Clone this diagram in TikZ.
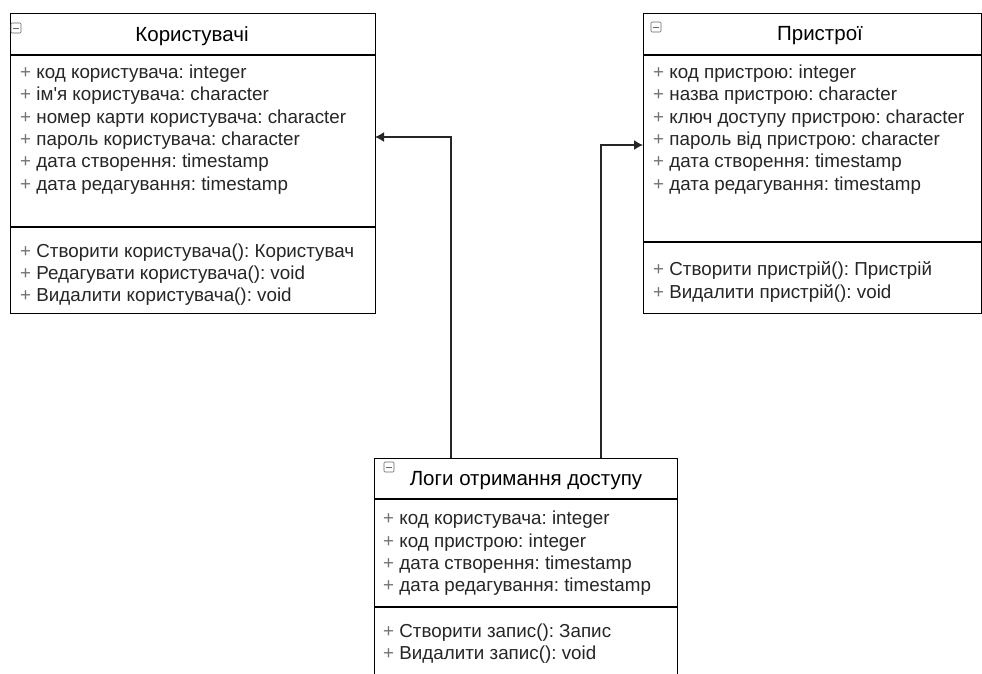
\documentclass[tikz,border=0pt]{standalone}
\usepackage{fontspec}
\setmainfont{Liberation Sans}
\usetikzlibrary{arrows.meta}
\frenchspacing
\newcommand{\pl}{\textcolor{black!55}{+}\ }
\begin{document}
\begin{tikzpicture}[x=1pt,y=-1pt,
  classbox/.style={draw=black,line width=1.1pt,fill=white},
  sep/.style={draw=black,line width=1.1pt},
  attr/.style={anchor=west,inner sep=0pt,font=\fontsize{18.8}{18.8}\selectfont\frenchspacing,text=black!85},
  title/.style={inner sep=0pt,font=\fontsize{20.5}{20.5}\selectfont,text=black},
  icon/.style={draw=black!60,line width=0.6pt,rounded corners=1pt,minimum width=10pt,minimum height=10pt,inner sep=0pt},
  conn/.style={draw=black!85,line width=1.4pt,-{Latex[length=9pt,width=10pt]}}]
\useasboundingbox (0,0) rectangle (982,673);
\clip (0,0) rectangle (982,673);
\fill[white] (0,0) rectangle (982,673);

% Box 1: Користувачі
\node[classbox,anchor=north west,minimum width=365pt,minimum height=300pt,inner sep=0pt] (users) at (10,13) {};
\draw[sep] (10,55) -- (375,55);
\draw[sep] (10,227) -- (375,227);
\node[icon] (iconU) at (16,28) {};
\draw[black!60,line width=0.6pt] (13,28) -- (19,28);
\node[title] (tU) at (192,36) {Користувачі};
\node[attr] (u1) at (20,74) {\pl код користувача: integer};
\node[attr] (u2) at (20,96) {\pl ім\textquotesingle я користувача: character};
\node[attr] (u3) at (20,119) {\pl номер карти користувача: character};
\node[attr] (u4) at (20,141) {\pl пароль користувача: character};
\node[attr] (u5) at (20,163) {\pl дата створення: timestamp};
\node[attr] (u6) at (20,186) {\pl дата редагування: timestamp};
\node[attr] (u7) at (20,253) {\pl Створити користувача(): Користувач};
\node[attr] (u8) at (20,275) {\pl Редагувати користувача(): void};
\node[attr] (u9) at (20,297) {\pl Видалити користувача(): void};

% Box 2: Пристрої
\node[classbox,anchor=north west,minimum width=338pt,minimum height=300pt,inner sep=0pt] (devices) at (643,13) {};
\draw[sep] (643,55) -- (981,55);
\draw[sep] (643,242) -- (981,242);
\node[icon] (iconD) at (656,27) {};
\draw[black!60,line width=0.6pt] (653,27) -- (659,27);
\node[title] (tD) at (820,36) {Пристрої};
\node[attr] (d1) at (653,74) {\pl код пристрою: integer};
\node[attr] (d2) at (653,96) {\pl назва пристрою: character};
\node[attr] (d3) at (653,119) {\pl ключ доступу пристрою: character};
\node[attr] (d4) at (653,141) {\pl пароль від пристрою: character};
\node[attr] (d5) at (653,163) {\pl дата створення: timestamp};
\node[attr] (d6) at (653,186) {\pl дата редагування: timestamp};
\node[attr] (d7) at (653,270) {\pl Створити пристрій(): Пристрій};
\node[attr] (d8) at (653,293) {\pl Видалити пристрій(): void};

% Box 3: Логи отримання доступу
\node[classbox,anchor=north west,minimum width=303pt,minimum height=240pt,inner sep=0pt] (logs) at (374,458) {};
\draw[sep] (374,499) -- (677,499);
\draw[sep] (374,607) -- (677,607);
\node[icon] (iconL) at (389,467) {};
\draw[black!60,line width=0.6pt] (386,467) -- (392,467);
\node[title] (tL) at (526,481) {Логи отримання доступу};
\node[attr] (l1) at (383,520) {\pl код користувача: integer};
\node[attr] (l2) at (383,543) {\pl код пристрою: integer};
\node[attr] (l3) at (383,565) {\pl дата створення: timestamp};
\node[attr] (l4) at (383,587) {\pl дата редагування: timestamp};
\node[attr] (l5) at (383,633) {\pl Створити запис(): Запис};
\node[attr] (l6) at (383,655) {\pl Видалити запис(): void};

% Connectors
\coordinate (s1) at (451,458);
\coordinate (e1) at (375,137);
\coordinate (s2) at (601,458);
\coordinate (e2) at (643,145);
\draw[conn] (s1) |- (e1);
\draw[conn] (s2) |- (e2);
\end{tikzpicture}
\end{document}
